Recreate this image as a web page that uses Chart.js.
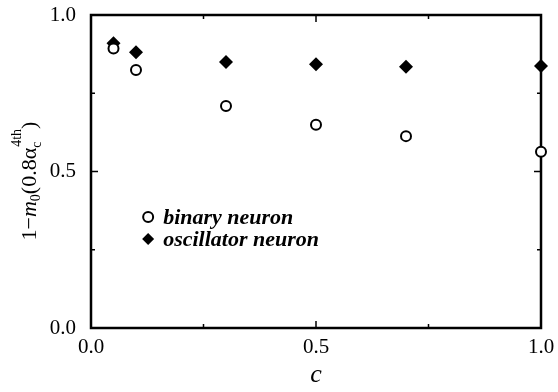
<!DOCTYPE html>
<html lang="en">
<head>
    <meta charset="UTF-8">
    <title>1-m0 vs c</title>
    <style>
        body {
            margin: 0;
            padding: 0;
            background-color: #fff;
        }
        #wrap {
            width: 558px;
            height: 392px;
        }
    </style>
</head>
<body>
    <div id="wrap">
        <canvas id="chart"></canvas>
    </div>

    <script src="https://cdn.jsdelivr.net/npm/chart.js"></script>
    <script>
        // datos
        var cValues = [0.05, 0.1, 0.3, 0.5, 0.7, 1.0];
        var binaryNeuron = [0.893, 0.824, 0.709, 0.649, 0.613, 0.563];
        var oscillatorNeuron = [0.910, 0.881, 0.850, 0.843, 0.835, 0.837];
        var tickLabels = ['0.0', '0.5', '1.0'];
        var seriesNames = ['binary neuron', 'oscillator neuron'];

        var serif = '"Liberation Serif", "DejaVu Serif", serif';

        function toPoints(ys) {
            return cValues.map(function (c, i) { return { x: c, y: ys[i] }; });
        }

        function tickLabel(value) {
            var s = value.toFixed(1);
            return tickLabels.indexOf(s) >= 0 && Math.abs(value * 2 - Math.round(value * 2)) < 1e-9 ? s : '';
        }

        // marco, ticks hacia adentro, leyenda y titulo del eje y
        var framePlugin = {
            id: 'frame',
            beforeDatasetsDraw: function (chart) {
                var ctx = chart.ctx;
                var a = chart.chartArea;
                ctx.save();
                ctx.strokeStyle = '#000';
                ctx.lineWidth = 2.5;
                ctx.strokeRect(a.left, a.top, a.right - a.left, a.bottom - a.top);

                ctx.lineWidth = 1.5;
                var xs = chart.scales.x, ys = chart.scales.y;
                xs.ticks.forEach(function (t) {
                    if (t.value <= 0 || t.value >= 1) return;
                    var p = xs.getPixelForValue(t.value);
                    var len = tickLabel(t.value) ? 7 : 4;
                    ctx.beginPath();
                    ctx.moveTo(p, a.bottom); ctx.lineTo(p, a.bottom - len);
                    ctx.moveTo(p, a.top); ctx.lineTo(p, a.top + len);
                    ctx.stroke();
                });
                ys.ticks.forEach(function (t) {
                    if (t.value <= 0 || t.value >= 1) return;
                    var p = ys.getPixelForValue(t.value);
                    var len = tickLabel(t.value) ? 7 : 4;
                    ctx.beginPath();
                    ctx.moveTo(a.left, p); ctx.lineTo(a.left + len, p);
                    ctx.moveTo(a.right, p); ctx.lineTo(a.right - len, p);
                    ctx.stroke();
                });
                ctx.restore();
            },
            afterDraw: function (chart) {
                var ctx = chart.ctx;
                var xs = chart.scales.x, ys = chart.scales.y;

                // leyenda
                ctx.save();
                var lx = xs.getPixelForValue(0.127);
                var ly = ys.getPixelForValue(0.355);
                ctx.font = 'italic bold 22px ' + serif;
                ctx.textBaseline = 'middle';
                ctx.fillStyle = '#000';

                ctx.beginPath();
                ctx.arc(lx, ly, 5, 0, Math.PI * 2);
                ctx.lineWidth = 2;
                ctx.strokeStyle = '#000';
                ctx.stroke();
                ctx.fillText(seriesNames[0], lx + 15, ly + 1);

                var ly2 = ly + 22;
                ctx.beginPath();
                ctx.moveTo(lx, ly2 - 6); ctx.lineTo(lx + 6, ly2);
                ctx.lineTo(lx, ly2 + 6); ctx.lineTo(lx - 6, ly2);
                ctx.closePath();
                ctx.fill();
                ctx.fillText(seriesNames[1], lx + 15, ly2 + 1);
                ctx.restore();

                // titulo eje y: 1-m0(0.8 alpha_c^4th)
                ctx.save();
                ctx.translate(36, 181);
                ctx.rotate(-Math.PI / 2);
                ctx.fillStyle = '#000';
                ctx.textBaseline = 'alphabetic';
                var big = '22px ' + serif, bigI = 'italic 22px ' + serif;
                var small = '14px ' + serif;
                var parts = [
                    { t: '1\u2212', f: big, dy: 0 },
                    { t: 'm', f: bigI, dy: 0 },
                    { t: '0', f: small, dy: 4 },
                    { t: '(0.8\u03b1', f: big, dy: 0 }
                ];
                var w = 0;
                parts.forEach(function (p) { ctx.font = p.f; w += ctx.measureText(p.t).width; });
                ctx.font = small;
                var wSub = ctx.measureText('c').width;
                var wSup = ctx.measureText('4th').width;
                ctx.font = big;
                var wEnd = ctx.measureText(')').width;
                var total = w + Math.max(wSub, wSup) + 1 + wEnd;
                var x = -total / 2;
                parts.forEach(function (p) {
                    ctx.font = p.f;
                    ctx.fillText(p.t, x, p.dy);
                    x += ctx.measureText(p.t).width;
                });
                ctx.font = small;
                ctx.fillText('c', x, 5);
                ctx.fillText('4th', x + 1, -15);
                x += Math.max(wSub, wSup) + 1;
                ctx.font = big;
                ctx.fillText(')', x, 0);
                ctx.restore();
            }
        };

        new Chart(document.getElementById('chart'), {
            type: 'scatter',
            data: {
                datasets: [{
                    label: seriesNames[0],
                    data: toPoints(binaryNeuron),
                    pointStyle: 'circle',
                    pointRadius: 5,
                    pointBorderWidth: 2,
                    pointBackgroundColor: '#fff',
                    pointBorderColor: '#000',
                    clip: false
                }, {
                    label: seriesNames[1],
                    data: toPoints(oscillatorNeuron),
                    pointStyle: 'rectRot',
                    pointRadius: 7,
                    pointBorderWidth: 0,
                    pointBackgroundColor: '#000',
                    pointBorderColor: '#000',
                    clip: false
                }]
            },
            options: {
                responsive: true,
                maintainAspectRatio: false,
                animation: false,
                layout: {
                    padding: { left: 0, right: 17, top: 15, bottom: 0 }
                },
                plugins: {
                    legend: { display: false },
                    tooltip: { enabled: false }
                },
                scales: {
                    x: {
                        type: 'linear',
                        min: 0,
                        max: 1,
                        grid: { display: false, drawTicks: false },
                        border: { display: false },
                        ticks: {
                            stepSize: 0.25,
                            padding: 7,
                            color: '#000',
                            maxRotation: 0,
                            autoSkip: false,
                            font: { family: serif, size: 21 },
                            callback: function (v) { return tickLabel(v); }
                        },
                        title: {
                            display: true,
                            text: 'c',
                            color: '#000',
                            font: { family: serif, size: 26, style: 'italic' },
                            padding: { top: 0, bottom: 1 }
                        },
                        afterFit: function (scale) {
                            scale.height = 64;
                            scale.paddingLeft = 0;
                            scale.paddingRight = 0;
                        }
                    },
                    y: {
                        type: 'linear',
                        min: 0,
                        max: 1,
                        grid: { display: false, drawTicks: false },
                        border: { display: false },
                        ticks: {
                            stepSize: 0.25,
                            padding: 15,
                            color: '#000',
                            autoSkip: false,
                            font: { family: serif, size: 21 },
                            callback: function (v) { return tickLabel(v); }
                        },
                        afterFit: function (scale) {
                            scale.width = 91;
                            scale.paddingTop = 0;
                            scale.paddingBottom = 0;
                        }
                    }
                }
            },
            plugins: [framePlugin]
        });
    </script>
</body>
</html>
